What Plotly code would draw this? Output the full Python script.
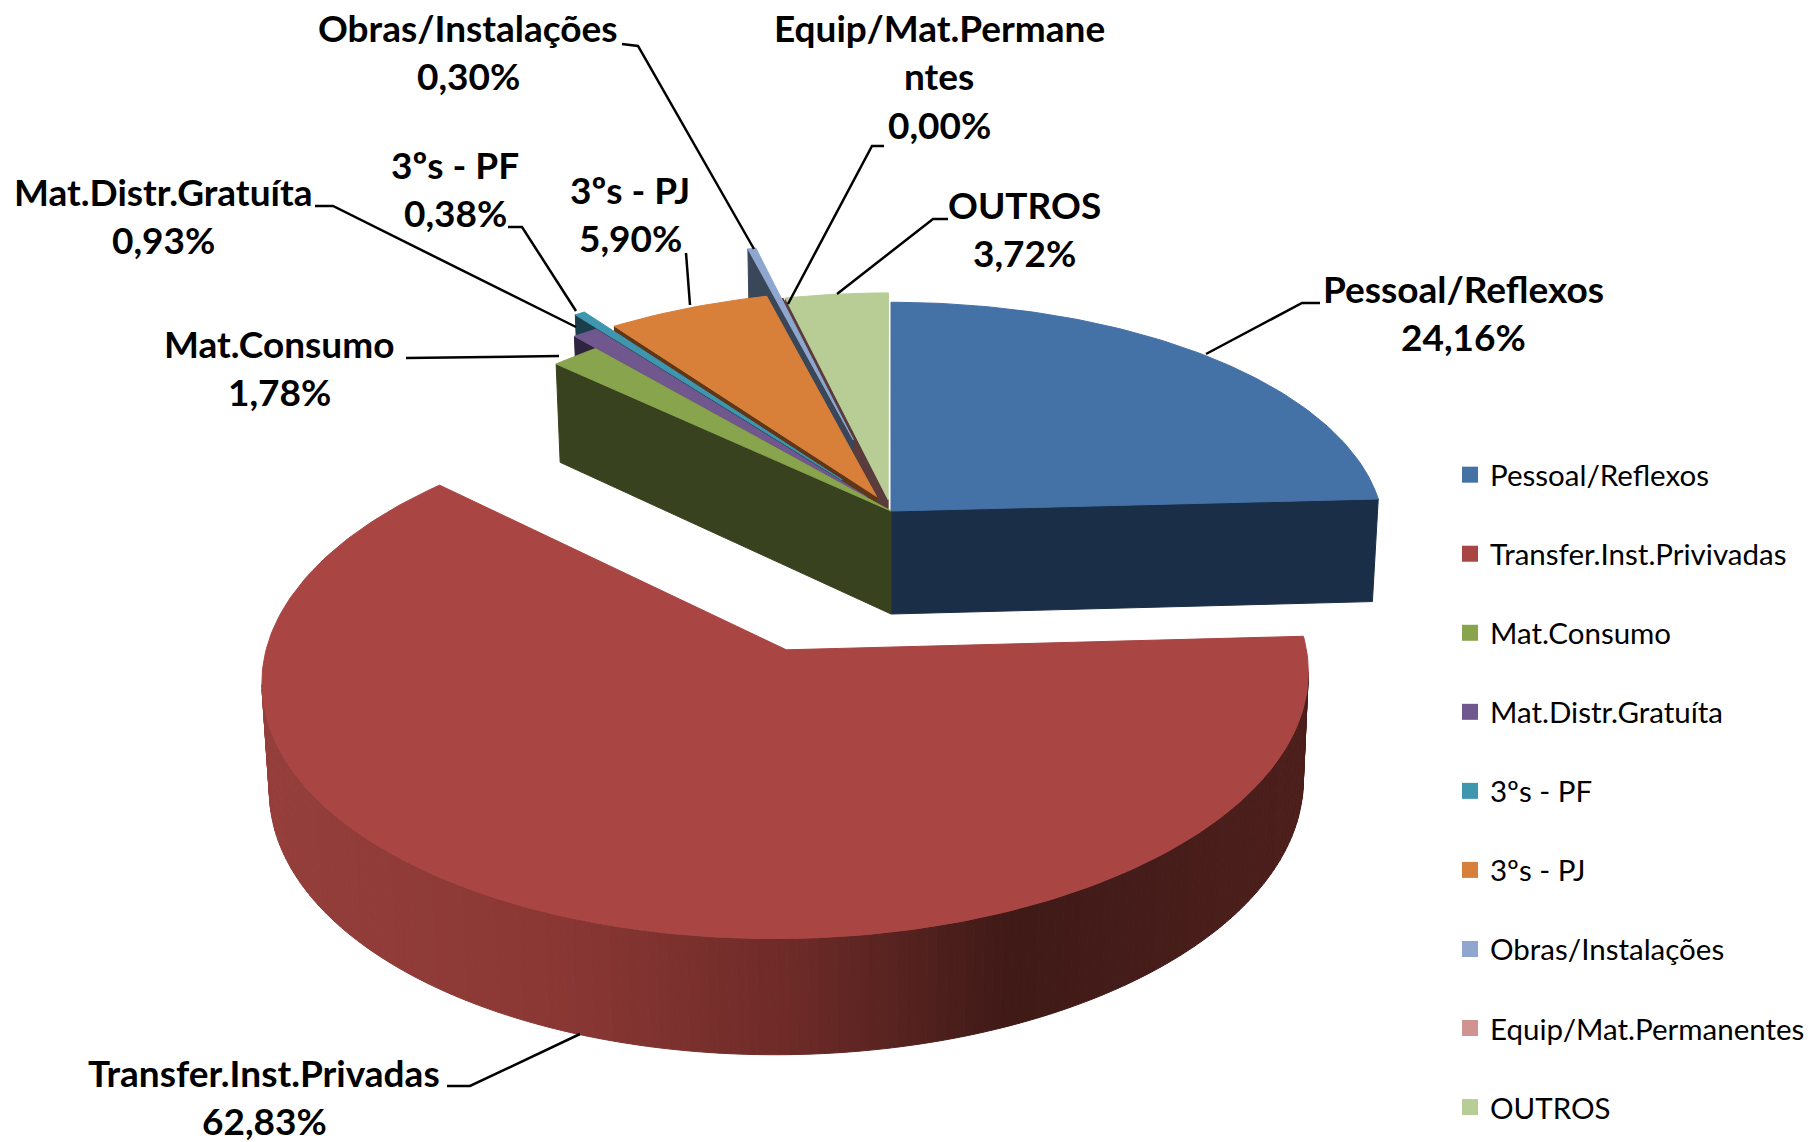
import math
import plotly.graph_objects as go

LABELS = ["Pessoal/Reflexos", "Transfer.Inst.Privivadas", "Mat.Consumo", "Mat.Distr.Gratuíta",
          "3ºs - PF", "3ºs - PJ", "Obras/Instalações", "Equip/Mat.Permanentes", "OUTROS"]
VALUES = [24.16, 62.83, 1.78, 0.93, 0.38, 5.90, 0.30, 0.00, 3.72]
EXPLODE = [0.0, 0.607, 0.0, 0.08, 0.17, 0.07, 0.33, 0.05, 0.05]
SIDE_SHIFT = [0.0, 0.007, 0.0, 0.0, 0.0, 0.0, 0.0, 0.0, 0.0]
TOP_COLORS = ["#4471A6", "#A94543", "#88A44D", "#70588F", "#3F96AF", "#D8803A", "#8FA7CF", "#D19392", "#B7CD95"]
WALL_COLORS = ["#1B2E47", "#7A302D", "#38421E", "#2F2440", "#1A3F4B", "#5F3718", "#3A4759", "#5A3C3C", "#5A3C3C"]
PAINT_ORDER = [8, 0, 7, 6, 5, 4, 3, 2, 1]

# perspective of the pie, in picture pixels
CX, CY, A, B, K, H, BOTTOM = 891.0, 511.0, 490.5, 229.6, 0.10, 103.0, 0.988


def project(X, Y):
    s = 1 / (1 - K * Y)
    return CX + A * X * s, CY + B * Y * s, s


def lower(X, Y):
    x, y, s = project(X, Y)
    return CX + (x - CX) * BOTTOM, y + H * s ** 0.7


def lerp_color(x):
    stops = [(261, (0x95, 0x3F, 0x3B)), (560, (0x8A, 0x37, 0x34)), (788, (0x6E, 0x2B, 0x28)),
             (1010, (0x3F, 0x1A, 0x17)), (1308, (0x4D, 0x1F, 0x1C))]
    if x <= stops[0][0]:
        return "rgb(%d,%d,%d)" % stops[0][1]
    for (x0, c0), (x1, c1) in zip(stops, stops[1:]):
        if x <= x1:
            t = (x - x0) / (x1 - x0)
            return "rgb(%d,%d,%d)" % tuple(round(a + (b - a) * t) for a, b in zip(c0, c1))
    return "rgb(%d,%d,%d)" % stops[-1][1]


def poly(fig, xs, ys, color):
    fig.add_trace(go.Scatter(x=xs + xs[:1], y=ys + ys[:1], mode="lines", fill="toself", fillcolor=color,
                             line=dict(color=color, width=1), hoverinfo="skip", showlegend=False))


fig = go.Figure()
total = sum(VALUES)
start = []
acc = 0.0
for v in VALUES:
    start.append(acc / total * 2 * math.pi)
    acc += v

for i in PAINT_ORDER:
    a0 = start[i]
    a1 = a0 + VALUES[i] / total * 2 * math.pi
    mid = (a0 + a1) / 2
    e = EXPLODE[i]
    Xc, Yc = e * math.sin(mid) + SIDE_SHIFT[i], -e * math.cos(mid)
    n = max(2, int(math.degrees(a1 - a0) / 1.0) + 1)
    rim = [(Xc + math.sin(a0 + (a1 - a0) * j / n), Yc - math.cos(a0 + (a1 - a0) * j / n)) for j in range(n + 1)]
    apex_xy = project(Xc, Yc)[:2]

    for X, Y in (rim[0], rim[-1]):
        q = project(X, Y)[:2]
        if abs(q[0] - apex_xy[0]) < 1:
            continue
        mx, my = project(*rim[n // 2])[:2]
        line_y = apex_xy[1] + (mx - apex_xy[0]) * (q[1] - apex_xy[1]) / (q[0] - apex_xy[0])
        if my < line_y or VALUES[i] == 0:
            lo_q, lo_a = lower(X, Y), lower(Xc, Yc)
            poly(fig, [apex_xy[0], q[0], lo_q[0], lo_a[0]], [apex_xy[1], q[1], lo_q[1], lo_a[1]], WALL_COLORS[i])

    for j in range(n):
        seg = rim[j:j + 2]
        top = [project(*p)[:2] for p in seg]
        if top[-1][0] < top[0][0]:
            bot = [lower(*p) for p in seg]
            xs = [p[0] for p in top] + [p[0] for p in reversed(bot)]
            ys = [p[1] for p in top] + [p[1] for p in reversed(bot)]
            col = lerp_color(sum(p[0] for p in top) / len(top)) if i == 1 else WALL_COLORS[i]
            poly(fig, xs, ys, col)

    if VALUES[i] > 0:
        pts = [apex_xy] + [project(*p)[:2] for p in rim]
        poly(fig, [p[0] for p in pts], [p[1] for p in pts], TOP_COLORS[i])

for name, color in zip(LABELS, TOP_COLORS):
    fig.add_trace(go.Scatter(x=[None], y=[None], mode="markers", name=name, legendgroup=name,
                             marker=dict(symbol="square", size=19, color=color), hoverinfo="skip"))

# label text rows and centres, in picture pixels
LABEL_LINES = {
    0: (["Pessoal/Reflexos"], 1463, 288),
    1: (["Transfer.Inst.Privadas"], 264, 1072),
    2: (["Mat.Consumo"], 279, 343),
    3: (["Mat.Distr.Gratuíta"], 163, 191),
    4: (["3ºs - PF"], 455, 164),
    5: (["3ºs - PJ"], 630, 189),
    6: (["Obras/Instalações"], 468, 27),
    7: (["Equip/Mat.Permane", "ntes"], 939, 27),
    8: (["OUTROS"], 1024, 204),
}
ROW = 48.5
annotations = []
for i, (rows, lx, ly) in LABEL_LINES.items():
    pct = f"{VALUES[i]:.2f}".replace(".", ",") + "%"
    for r, t in enumerate(rows + [pct]):
        annotations.append(dict(x=lx, y=ly + r * ROW, xref="x", yref="y", text=t, showarrow=False,
                                xanchor="center", yanchor="middle",
                                font=dict(family="Lato", size=37, color="#000000", weight="bold")))

LEADERS = [
    [(1206, 354), (1302, 303), (1320, 303)],
    [(580, 1034), (470, 1086), (447, 1086)],
    [(559, 356), (406, 358)],
    [(576, 327), (333, 206), (315, 206)],
    [(576, 311), (522, 227), (508, 227)],
    [(690, 305), (686, 253)],
    [(754, 249), (638, 46), (622, 44)],
    [(788, 304), (872, 146), (884, 146)],
    [(837, 294), (933, 219), (948, 219)],
]
shapes = []
for pts in LEADERS:
    path = "M " + " L ".join(f"{x},{y}" for x, y in pts)
    shapes.append(dict(type="path", path=path, xref="x", yref="y", line=dict(color="#000000", width=2.5)))

fig.update_layout(
    width=1818, height=1142, margin=dict(l=0, r=0, t=0, b=0, autoexpand=False),
    paper_bgcolor="white", plot_bgcolor="white",
    xaxis=dict(range=[0, 1818], visible=False, fixedrange=True),
    yaxis=dict(range=[1142, 0], visible=False, fixedrange=True),
    annotations=annotations, shapes=shapes, showlegend=True,
    legend=dict(x=1450 / 1818, y=1 - 449 / 1142, xanchor="left", yanchor="top", tracegroupgap=37.7,
                font=dict(family="Lato", size=29.5, color="#000000"), itemwidth=30, bgcolor="rgba(0,0,0,0)"),
)
fig.write_html("out.html", post_script="document.body.style.margin='0';", config=dict(displayModeBar=False))
